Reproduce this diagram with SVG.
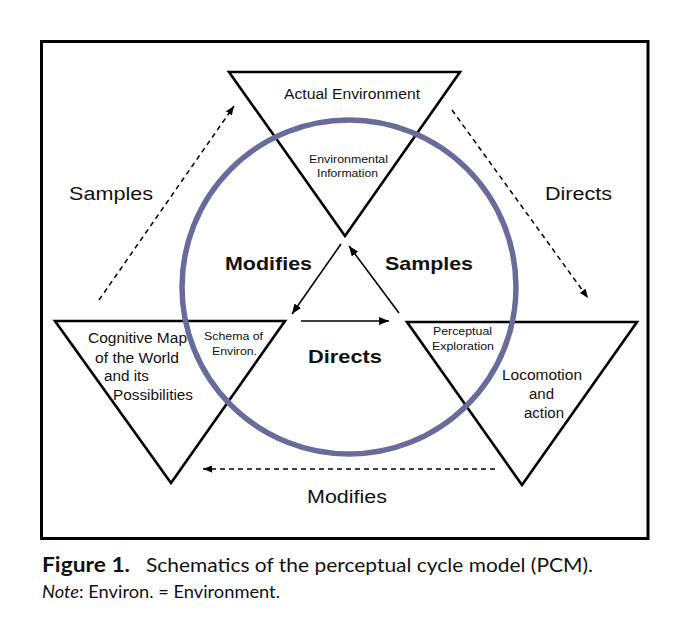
<svg xmlns="http://www.w3.org/2000/svg" width="683" height="640" viewBox="0 0 683 640">
<defs>
<style>
.tri{fill:#fff;stroke:#000;stroke-width:2.6;stroke-linejoin:miter}
.cyc{fill:none;stroke:#6a6a9b;stroke-width:5.5}
.sol{stroke:#000;stroke-width:1.6;fill:none}
.dash{stroke:#000;stroke-width:1.5;fill:none;stroke-dasharray:5 4}
.t{font-family:"Liberation Sans",Arial,sans-serif;fill:#111}
.s11{font-size:11px}
.s14{font-size:14px}
.s18{font-size:18px}
.b19{font-size:19px;font-weight:bold}
.cap{font-family:Lato,"Open Sans",sans-serif;fill:#111}
</style>
<marker id="ah" viewBox="0 0 10 8" refX="10" refY="4" markerWidth="10" markerHeight="8" markerUnits="userSpaceOnUse" orient="auto">
<path d="M0,0 L10,4 L0,8 z" fill="#000"/>
</marker>
<marker id="ahd" viewBox="0 0 10 8" refX="10" refY="4" markerWidth="9" markerHeight="8" markerUnits="userSpaceOnUse" orient="auto">
<path d="M0,0 L10,4 L0,8 z" fill="#000"/>
</marker>
</defs>
<rect width="683" height="640" fill="#fff"/>
<rect x="41.5" y="41.5" width="606.5" height="497" fill="none" stroke="#000" stroke-width="3"/>

<g id="node-top">
<polygon class="tri" points="229,72 460,72 345,236"/>
</g>
<g id="node-left">
<polygon class="tri" points="55,321 285,321 171,483"/>
</g>
<g id="node-right">
<polygon class="tri" points="407,322 637,322 522,485"/>
</g>
<g id="cycle">
<circle class="cyc" cx="349" cy="287" r="167"/>
</g>

<g id="connectors">
<line class="sol" x1="341" y1="244" x2="292" y2="314" marker-end="url(#ah)"/>
<line class="sol" x1="399" y1="313" x2="349" y2="246" marker-end="url(#ah)"/>
<line class="sol" x1="301" y1="321" x2="389" y2="321" marker-end="url(#ah)"/>
<line class="dash" x1="99" y1="300" x2="234" y2="106" marker-end="url(#ahd)"/>
<line class="dash" x1="452" y1="110" x2="588" y2="298" marker-end="url(#ahd)"/>
<line class="dash" x1="495" y1="469" x2="203" y2="469" marker-end="url(#ahd)"/>
</g>

<g id="labels">
<text class="t s14" x="284" y="99" textLength="136" lengthAdjust="spacingAndGlyphs">Actual Environment</text>
<text class="t s11" x="309" y="163" textLength="79" lengthAdjust="spacingAndGlyphs">Environmental</text>
<text class="t s11" x="317" y="177" textLength="61" lengthAdjust="spacingAndGlyphs">Information</text>
<text class="t s18" x="69" y="200" textLength="84" lengthAdjust="spacingAndGlyphs">Samples</text>
<text class="t s18" x="545" y="200" textLength="67" lengthAdjust="spacingAndGlyphs">Directs</text>
<text class="t s18" x="307" y="503" textLength="80" lengthAdjust="spacingAndGlyphs">Modifies</text>
<text class="t b19" x="225" y="270" textLength="87" lengthAdjust="spacingAndGlyphs">Modifies</text>
<text class="t b19" x="385" y="270" textLength="88" lengthAdjust="spacingAndGlyphs">Samples</text>
<text class="t b19" x="308" y="363" textLength="74" lengthAdjust="spacingAndGlyphs">Directs</text>
<text class="t s14" x="88" y="343" textLength="99" lengthAdjust="spacingAndGlyphs">Cognitive Map</text>
<text class="t s14" x="95" y="363" textLength="84" lengthAdjust="spacingAndGlyphs">of the World</text>
<text class="t s14" x="104" y="381" textLength="45" lengthAdjust="spacingAndGlyphs">and its</text>
<text class="t s14" x="113" y="400" textLength="80" lengthAdjust="spacingAndGlyphs">Possibilities</text>
<text class="t s11" x="204" y="340" textLength="59" lengthAdjust="spacingAndGlyphs">Schema of</text>
<text class="t s11" x="212" y="355" textLength="45" lengthAdjust="spacingAndGlyphs">Environ.</text>
<text class="t s11" x="433" y="335" textLength="59" lengthAdjust="spacingAndGlyphs">Perceptual</text>
<text class="t s11" x="432" y="350" textLength="62" lengthAdjust="spacingAndGlyphs">Exploration</text>
<text class="t s14" x="502" y="380" textLength="80" lengthAdjust="spacingAndGlyphs">Locomotion</text>
<text class="t s14" x="529" y="399" textLength="25" lengthAdjust="spacingAndGlyphs">and</text>
<text class="t s14" x="524" y="418" textLength="40" lengthAdjust="spacingAndGlyphs">action</text>
</g>

<g id="caption">
<text class="cap" x="42" y="572" font-size="20" font-weight="bold" textLength="88" lengthAdjust="spacingAndGlyphs">Figure 1.</text>
<text class="cap" x="146" y="572" font-size="20" textLength="447" lengthAdjust="spacingAndGlyphs">Schematics of the perceptual cycle model (PCM).</text>
<text class="cap" x="42" y="598" font-size="17" textLength="238" lengthAdjust="spacingAndGlyphs"><tspan font-style="italic">Note</tspan>: Environ. = Environment.</text>
</g>
</svg>
